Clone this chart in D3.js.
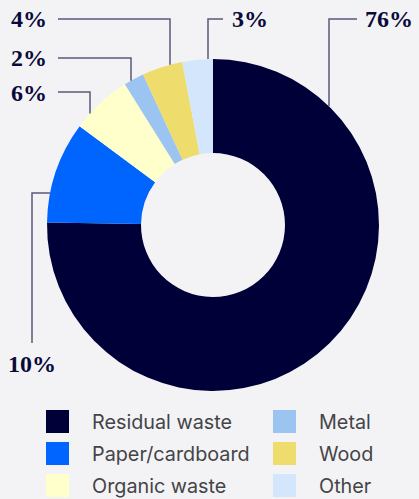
<!DOCTYPE html>
<html>
<head>
<meta charset="utf-8">
<script src="https://cdn.jsdelivr.net/npm/d3@7"></script>
<style>
  html, body { margin: 0; padding: 0; background: #f3f3f5; }
  svg { display: block; }
</style>
</head>
<body>
<svg id="chart" width="419" height="499"></svg>
<script>
// Waste composition by share (%)
const categories = ["Residual waste", "Paper/cardboard", "Organic waste", "Metal", "Wood", "Other"];
const values = [76, 10, 6, 2, 4, 3];
const valueLabels = ["76%", "10%", "6%", "2%", "4%", "3%"];
const colors = ["#000038", "#0064ff", "#ffffcc", "#9cc4f0", "#eedc6c", "#d4e6fc"];

// Label callouts: elbow point of each leader and where its text sits
const callouts = [
  { elbowX: 329, elbowY: 19, lineX: 357, textX: 365, textY: 27, anchor: "start", leg: "v" },
  { elbowX: 32, elbowY: 193, lineY: 343, textX: 32, textY: 372, anchor: "middle", leg: "h" },
  { elbowX: 90, elbowY: 92, lineX: 58, textX: 47, textY: 101, anchor: "end", leg: "v" },
  { elbowX: 131, elbowY: 58, lineX: 58, textX: 47, textY: 66, anchor: "end", leg: "v" },
  { elbowX: 170, elbowY: 19, lineX: 58, textX: 47, textY: 27, anchor: "end", leg: "v" },
  { elbowX: 208, elbowY: 19, lineX: 223, textX: 232, textY: 27, anchor: "start", leg: "v" }
];

const svg = d3.select("#chart");
const cx = 213, cy = 225, outerR = 166, innerR = 72;

const pie = d3.pie().sort(null).value(d => d);
const arcs = pie(values);
const arc = d3.arc().innerRadius(innerR).outerRadius(outerR);

const g = svg.append("g").attr("transform", `translate(${cx},${cy})`);
g.selectAll("path.slice")
  .data(arcs)
  .join("path")
  .attr("class", "slice")
  .attr("d", arc)
  .attr("fill", (d, i) => colors[i]);

// Leader lines: run from the text to an elbow, then meet the outer rim of the slice
const leaders = svg.append("g")
  .attr("fill", "none")
  .attr("stroke", "#5a5a7c")
  .attr("stroke-width", 1.5);

callouts.forEach((c, i) => {
  let pts;
  if (c.leg === "v") {
    const dx = c.elbowX - cx;
    const rimY = cy - Math.sqrt(outerR * outerR - dx * dx);
    pts = [[c.lineX, c.elbowY], [c.elbowX, c.elbowY], [c.elbowX, rimY]];
  } else {
    const dy = c.elbowY - cy;
    const rimX = cx - Math.sqrt(outerR * outerR - dy * dy);
    pts = [[c.elbowX, c.lineY], [c.elbowX, c.elbowY], [rimX, c.elbowY]];
  }
  leaders.append("path").attr("d", d3.line()(pts));
});

svg.append("g")
  .selectAll("text")
  .data(callouts)
  .join("text")
  .attr("x", d => d.textX)
  .attr("y", d => d.textY)
  .attr("text-anchor", d => d.anchor)
  .attr("font-family", "'Liberation Serif', 'DejaVu Serif', serif")
  .attr("font-weight", "bold")
  .attr("font-size", 24)
  .attr("fill", "#0a0a3a")
  .text((d, i) => valueLabels[i]);

// Legend: two columns of three
const legend = svg.append("g");
const items = legend.selectAll("g")
  .data(categories)
  .join("g")
  .attr("transform", (d, i) => `translate(${i < 3 ? 46 : 273},${410 + (i % 3) * 32})`);

items.append("rect")
  .attr("width", 23)
  .attr("height", 23)
  .attr("fill", (d, i) => colors[i]);

items.append("text")
  .attr("x", 46)
  .attr("y", 19)
  .attr("font-family", "Inter, 'Noto Sans', sans-serif")
  .attr("font-size", 19.8)
  .attr("fill", "#444448")
  .text(d => d);
</script>
</body>
</html>
